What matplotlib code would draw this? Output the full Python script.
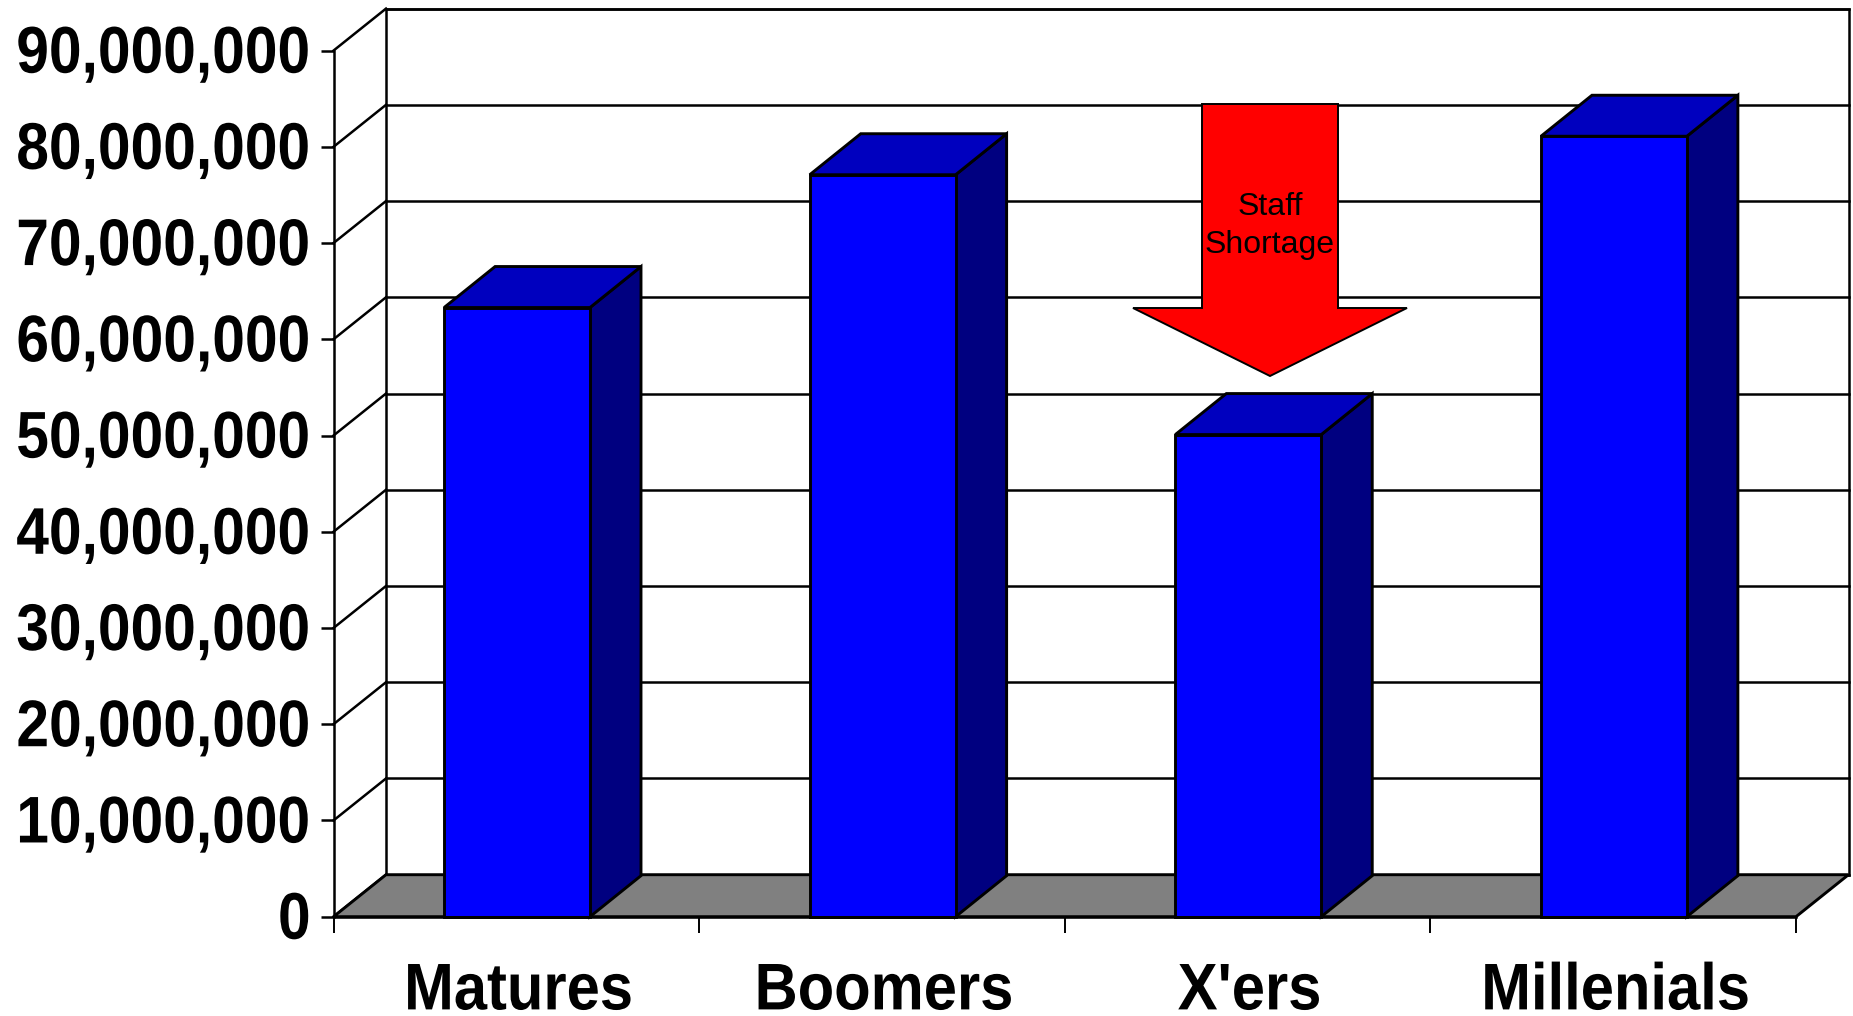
import matplotlib
matplotlib.use("Agg")
import matplotlib.pyplot as plt
from matplotlib.patches import Polygon
from matplotlib.patheffects import AbstractPathEffect
from matplotlib.transforms import Affine2D

# Generation sizes
categories = ["Matures", "Boomers", "X'ers", "Millenials"]
population = [63_300_000, 77_100_000, 50_100_000, 81_100_000]
y_ticks = list(range(0, 90_000_001, 10_000_000))
y_max = 90_000_000

# Figure geometry in pixels
FIG_W, FIG_H = 1853, 1016
LEFT, RIGHT, TOP, BOTTOM = 333.5, 1796.0, 50.6, 916.7
WALL_DX, WALL_DY = 52.5, 42.0
BAR_DX, BAR_DY = 51.0, 41.0
BAR_WIDTH = 0.399
BAR_SHIFT = 0.502

FRONT = "#0000FF"
TOP_FACE = "#0000BF"
SIDE = "#000080"
FLOOR = "#808080"
GRID_LW = 1.8
BAR_LW = 2.1
HEAVY_SIZE = 47.5


class Condense(AbstractPathEffect):
    """Narrow a text's glyph outlines around one edge, then nudge them."""

    def __init__(self, factor, anchor, shift=(0.0, 0.0)):
        super().__init__()
        self.factor = factor
        self.anchor = anchor
        self.shift = shift

    def draw_path(self, renderer, gc, tpath, affine, rgbFace=None):
        box = affine.transform_path(tpath).get_extents()
        pivot = box.x1 if self.anchor == "right" else 0.5 * (box.x0 + box.x1)
        squeeze = (Affine2D().translate(-pivot, 0).scale(self.factor, 1)
                   .translate(pivot + self.shift[0], self.shift[1]))
        renderer.draw_path(gc, tpath, affine + squeeze, rgbFace)


fig = plt.figure(figsize=(FIG_W / 100, FIG_H / 100), dpi=100, facecolor="white")
ax = fig.add_axes([LEFT / FIG_W, 1 - BOTTOM / FIG_H,
                   (RIGHT - LEFT) / FIG_W, (BOTTOM - TOP) / FIG_H])
n = len(categories)
ax.set_xlim(0, n)
ax.set_ylim(0, y_max)
ax.patch.set_visible(False)

# Pixel depth expressed in data units
ux = n / (RIGHT - LEFT)
uy = y_max / (BOTTOM - TOP)
wx, wy = WALL_DX * ux, WALL_DY * uy
bx, by = BAR_DX * ux, BAR_DY * uy

# Back wall, side wall, gridlines and floor
ax.add_patch(Polygon([(wx, wy), (n + wx, wy), (n + wx, y_max + wy), (wx, y_max + wy)],
                     closed=True, fc="white", ec="black", lw=GRID_LW, clip_on=False, zorder=1))
for v in y_ticks:
    ax.plot([wx, n + wx], [v + wy, v + wy], color="black", lw=GRID_LW, clip_on=False, zorder=1.5)
    ax.plot([0, wx], [v, v + wy], color="black", lw=GRID_LW, clip_on=False, zorder=1.5)
ax.add_patch(Polygon([(0, 0), (n, 0), (n + wx, wy), (wx, wy)],
                     closed=True, fc=FLOOR, ec="black", lw=BAR_LW, clip_on=False, zorder=2))

# Columns with their top and side faces
for i, v in enumerate(population):
    x0 = i + BAR_SHIFT - BAR_WIDTH / 2
    x1 = x0 + BAR_WIDTH
    ax.add_patch(Polygon([(x1, 0), (x1 + bx, by), (x1 + bx, v + by), (x1, v)],
                         closed=True, fc=SIDE, ec="black", lw=BAR_LW, clip_on=False, zorder=3))
    ax.add_patch(Polygon([(x0, v), (x1, v), (x1 + bx, v + by), (x0 + bx, v + by)],
                         closed=True, fc=TOP_FACE, ec="black", lw=BAR_LW, clip_on=False, zorder=3))
    ax.bar(i + BAR_SHIFT, v, width=BAR_WIDTH, color=FRONT, edgecolor="black",
           linewidth=BAR_LW, clip_on=False, zorder=3.5)

# Axes, ticks and labels
for side in ("top", "right"):
    ax.spines[side].set_visible(False)
for side in ("left", "bottom"):
    ax.spines[side].set_linewidth(GRID_LW)
    ax.spines[side].set_zorder(4)

# The value labels are set flush with the axis and narrowed back past the tick marks
ax.set_yticks(y_ticks, [f"{v:,}" for v in y_ticks], fontfamily="Liberation Sans",
              fontweight="bold", fontsize=HEAVY_SIZE)
ax.tick_params(axis="y", length=9.4, width=GRID_LW, pad=-9.4)
for lab in ax.get_yticklabels():
    lab.set_path_effects([Condense(0.89, "right", shift=(-22.5, 2.0))])

ax.set_xticks(range(n + 1))
ax.set_xticklabels([])
ax.tick_params(axis="x", which="major", length=11.5, width=1.4)
ax.set_xticks([i + BAR_SHIFT for i in range(n)], minor=True)
ax.set_xticklabels(categories, minor=True, fontfamily="Liberation Sans",
                   fontweight="bold", fontsize=HEAVY_SIZE)
for lab in ax.get_xticklabels(minor=True):
    lab.set_path_effects([Condense(0.905, "center", shift=(1.5, -4.0))])
ax.tick_params(axis="x", which="minor", length=0, pad=29.3)


# Staff shortage callout arrow
def px(x, y):
    return (x - LEFT) * ux, (BOTTOM - y) * uy


arrow_outline = [(1202, 104), (1338, 104), (1338, 308), (1407, 308),
                 (1270, 376), (1133, 308), (1202, 308)]
ax.add_patch(Polygon([px(*p) for p in arrow_outline], closed=True, fc="#FF0000",
                     ec="black", lw=1.4, clip_on=False, zorder=5))
for line, base in (("Staff", 215), ("Shortage", 253)):
    x, y = px(1270, base)
    ax.text(x, y, line, ha="center", va="baseline", family="Liberation Sans",
            fontsize=23, color="black", zorder=6)

fig.savefig("out.png", dpi=100, facecolor="white")
